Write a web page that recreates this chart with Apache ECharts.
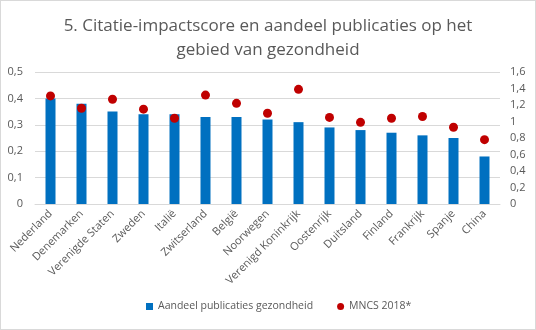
<!DOCTYPE html>
<html><head><meta charset="utf-8">
<script src="https://cdn.jsdelivr.net/npm/echarts@6/dist/echarts.min.js"></script>
<style>html,body{margin:0;padding:0;background:#fff}#c{width:534px;height:328px;border:1px solid #d9d9d9}</style>
</head><body><div id="c"></div>
<script>
var categories = ['Nederland','Denemarken','Verenigde Staten','Zweden','Italië','Zwitserland','België','Noorwegen','Verenigd Koninkrijk','Oostenrijk','Duitsland','Finland','Frankrijk','Spanje','China'];
var aandeel = [0.40,0.38,0.35,0.34,0.34,0.33,0.33,0.32,0.31,0.29,0.28,0.27,0.26,0.25,0.18];
var mncs = [1.31,1.16,1.27,1.15,1.04,1.32,1.22,1.10,1.39,1.05,0.99,1.04,1.06,0.93,0.78];
var leftTicks = ['0','0,1','0,2','0,3','0,4','0,5'];
var rightTicks = ['0','0,2','0,4','0,6','0,8','1','1,2','1,4','1,6'];
var font = "'Open Sans', sans-serif";
var chart = echarts.init(document.getElementById('c'));
chart.setOption({
  animation:false,
  title:{text:'5. Citatie-impactscore en aandeel publicaties op het\ngebied van gezondheid',left:'center',top:8,
    textStyle:{fontFamily:font,fontSize:17,fontWeight:'normal',color:'#595959',lineHeight:24}},
  legend:{bottom:12,left:140,itemGap:24,itemWidth:7,itemHeight:7,textStyle:{fontFamily:font,fontSize:10.5,color:'#595959'},
    data:[{name:'Aandeel publicaties gezondheid',icon:'rect'},{name:'MNCS 2018*',icon:'circle'}]},
  grid:{left:34,right:35,top:71,bottom:125},
  xAxis:{type:'category',data:categories,axisTick:{show:false},axisLine:{lineStyle:{color:'#d9d9d9'}},
    axisLabel:{rotate:45,interval:0,fontFamily:font,fontSize:11,color:'#595959',margin:8}},
  yAxis:[
    {type:'value',min:0,max:0.5,interval:0.1,splitLine:{lineStyle:{color:'#d9d9d9'}},
     axisLabel:{fontFamily:font,fontSize:11,color:'#595959',margin:12,formatter:function(v,i){return leftTicks[Math.round(v*10)];}}},
    {type:'value',min:0,max:1.6,interval:0.2,splitLine:{show:false},
     axisLabel:{fontFamily:font,fontSize:11,color:'#595959',margin:10,formatter:function(v){return rightTicks[Math.round(v*5)];}}}
  ],
  series:[
    {name:'Aandeel publicaties gezondheid',type:'bar',data:aandeel,barWidth:10,itemStyle:{color:'#0070c0'}},
    {name:'MNCS 2018*',type:'scatter',yAxisIndex:1,data:mncs,symbolSize:9,itemStyle:{color:'#c00000',opacity:1}}
  ]
});
</script></body></html>
